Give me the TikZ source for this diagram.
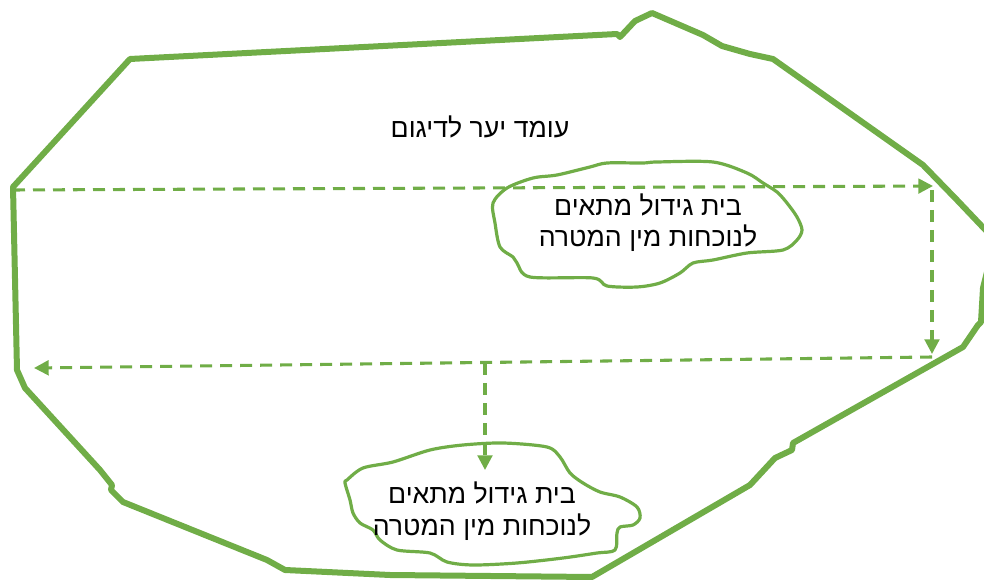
\documentclass[tikz,border=0pt]{standalone}
\usepackage{fontspec}
\setmainfont{Liberation Sans}
\newfontfamily\hebfont[Script=Hebrew]{Liberation Sans}
\TeXXeTstate=1
\usetikzlibrary{arrows.meta}
\definecolor{grn}{HTML}{70AD47}
\tikzset{
  outline/.style={draw=grn, line width=4.5pt, line join=round},
  blob/.style={draw=grn, line width=2.4pt, line join=round},
  flow/.style={draw=grn, line width=2.3pt, dash pattern=on 9pt off 6pt,
    -{Triangle[length=11pt,width=11pt]}},
  label/.style={font=\hebfont\fontsize{20}{23.5}\selectfont, align=center, text=black, inner sep=0pt},
}
\begin{document}
\begin{tikzpicture}[x=0.75pt,y=-0.75pt]
\useasboundingbox (0,0) rectangle (984,580);
\clip (0,0) rectangle (984,580);
% outer stand boundary
\draw[outline] (130,59) -- (617,34) -- (620,37) -- (635,21) -- (652,13) -- (703,35) -- (722,46)
  -- (750,54) -- (773,59) -- (923,165) -- (957,200) -- (995,240) -- (983,288) -- (981,322)
  -- (978,325) -- (963,347) -- (793,443) -- (792,450) -- (775,458) -- (750,485) -- (592,577)
  -- (390,575) -- (285,570) -- (267,560) -- (123,502) -- (111,490) -- (112,485) -- (100,470)
  -- (25,388) -- (17,370) -- (13,187) -- cycle;
% title
\node[label] (title) at (480,127) {\beginR עומד יער לדיגום\endR};
% blob 1
\draw[blob] plot[smooth cycle, tension=0.5] coordinates {
  (493,203) (507,188) (533,178) (557,175) (590,167) (607,163) (643,163) (657,162)
  (713,162) (747,173) (763,183) (777,192) (787,203) (797,217) (802,230) (797,240)
  (783,250) (747,253) (713,260) (693,263) (680,273) (660,283) (637,287) (607,286)
  (593,278) (530,277) (517,263) (513,257) (500,247) (495,223)};
\node[label] (h1) at (648,223) {\beginR בית גידול מתאים\endR\\\beginR לנוכחות מין המטרה\endR};
% blob 2
\draw[blob] plot[smooth cycle, tension=0.5] coordinates {
  (347,480) (363,468) (393,462) (430,450) (463,445) (503,443) (547,447) (560,457)
  (570,473) (583,483) (600,492) (620,497) (637,507) (640,518) (633,525) (620,527)
  (617,533) (615,550) (597,553) (563,558) (517,563) (473,565) (447,562) (430,553)
  (397,550) (380,540) (373,530) (360,523) (353,513) (350,500) (345,483)};
\node[label] (h2) at (482,511) {\beginR בית גידול מתאים\endR\\\beginR לנוכחות מין המטרה\endR};
% flow path
\coordinate (s1) at (13,190);
\coordinate (e1) at (933,186);
\coordinate (s2) at (932,190);
\coordinate (e2) at (932,354);
\coordinate (s3) at (932,357);
\coordinate (e3) at (34,368);
\coordinate (s4) at (485,363);
\coordinate (e4) at (485,470);
\draw[flow] (s1) -- (e1);
\draw[flow] (s2) -- (e2);
\draw[flow] (s3) -- (e3);
\draw[flow] (s4) -- (e4);
\end{tikzpicture}
\end{document}
